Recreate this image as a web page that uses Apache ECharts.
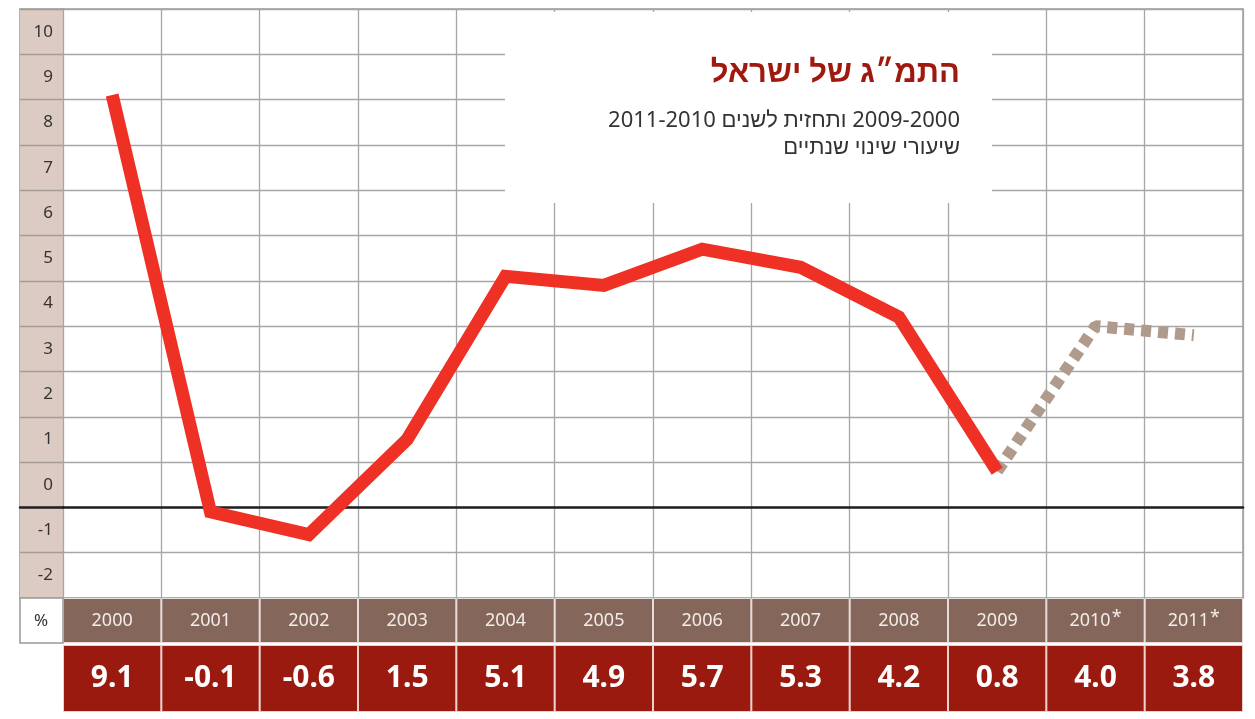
<!DOCTYPE html>
<html>
<head>
<meta charset="utf-8">
<script src="https://cdn.jsdelivr.net/npm/echarts@6/dist/echarts.min.js"></script>
<style>
  html, body { margin: 0; background: #fff; }
  #main { width: 1255px; height: 719px; }
</style>
</head>
<body>
<div id="main"></div>
<script>
var years = ["2000", "2001", "2002", "2003", "2004", "2005", "2006", "2007", "2008", "2009", "2010*", "2011*"];
var growth = [9.1, -0.1, -0.6, 1.5, 5.1, 4.9, 5.7, 5.3, 4.2, 0.8, 4.0, 3.8];
var lastActual = 9; // 2009, forecast starts after it
var yTickLabels = ["-2", "-1", "0", "1", "2", "3", "4", "5", "6", "7", "8", "9", "10"];

var titleText = "התמ״ג של ישראל";
var subtitleLines = ["2009-2000 ותחזית לשנים 2011-2010", "שיעורי שינוי שנתיים"];

var actualData = growth.map(function (v, i) { return i <= lastActual ? v : null; });
var forecastData = growth.map(function (v, i) { return i >= lastActual ? v : null; });
var cellFill = years.map(function () { return 1; });

var FONT = '"Noto Sans", "Liberation Sans", "DejaVu Sans", sans-serif';
var GRID_LINE = "#a6a6a6";
var RLE = "\u202B", PDF = "\u202C"; // keep hebrew lines right-to-left on the canvas

var option = {
  animation: false,
  textStyle: { fontFamily: FONT },
  graphic: [
    { type: "rect", z: 3, shape: { x: 505, y: 12, width: 487, height: 191 }, style: { fill: "#fff" } },
    {
      type: "text", z: 4, x: 960, y: 73,
      style: { text: RLE + titleText + PDF, fontSize: 31, fontWeight: "bold", fill: "#a0190f", align: "right", verticalAlign: "middle", fontFamily: FONT }
    },
    {
      type: "text", z: 4, x: 960, y: 121,
      style: { text: RLE + subtitleLines[0] + PDF, fontSize: 22, fill: "#333", align: "right", verticalAlign: "middle", fontFamily: FONT }
    },
    {
      type: "text", z: 4, x: 960, y: 148,
      style: { text: RLE + subtitleLines[1] + PDF, fontSize: 22, fill: "#333", align: "right", verticalAlign: "middle", fontFamily: FONT }
    },
    { type: "rect", z: 3, shape: { x: 20, y: 598, width: 43, height: 45 }, style: { fill: "#fff", stroke: "#999", lineWidth: 1.5 } },
    { type: "text", z: 4, x: 41, y: 621, style: { text: "%", fontSize: 17, fill: "#333", align: "center", verticalAlign: "middle", fontFamily: FONT } }
  ],
  grid: [
    { left: 20, width: 43, top: 9, height: 589, show: true, borderColor: "#999", borderWidth: 1.5 },
    { left: 63, width: 1180, top: 9, height: 589, show: true, borderColor: "#999", borderWidth: 1.5 },
    { left: 63, width: 1180, top: 598, height: 45 },
    { left: 63, width: 1180, top: 645, height: 67 }
  ],
  xAxis: [
    {
      gridIndex: 0, type: "value", min: 0, max: 1,
      axisLine: { show: true, onZero: true, lineStyle: { color: "#231f20", width: 2.5 } },
      axisTick: { show: false }, axisLabel: { show: false }, splitLine: { show: false }
    },
    {
      gridIndex: 1, type: "category", data: years, boundaryGap: true,
      axisLine: { show: true, onZero: true, lineStyle: { color: "#231f20", width: 2.5 } },
      axisTick: { show: false }, axisLabel: { show: false },
      splitLine: { show: true, interval: 0, lineStyle: { color: GRID_LINE, width: 1.3 } }
    },
    { gridIndex: 2, type: "category", data: years, show: false },
    { gridIndex: 3, type: "category", data: years, show: false }
  ],
  yAxis: [
    {
      gridIndex: 0, type: "value", position: "right", min: -2, max: 11, interval: 1,
      axisLine: { show: false }, axisTick: { show: false },
      splitArea: { show: true, areaStyle: { color: ["#dccbc3"] } },
      splitLine: { show: true, lineStyle: { color: "#a39b96", width: 1.3 } },
      axisLabel: {
        inside: true, margin: 10, fontSize: 17, color: "#333",
        verticalAlign: "bottom", lineHeight: 45,
        formatter: function (v, i) { return yTickLabels[i] || ""; }
      }
    },
    {
      gridIndex: 1, type: "value", min: -2, max: 11, interval: 1,
      axisLine: { show: false }, axisTick: { show: false }, axisLabel: { show: false },
      splitLine: { show: true, lineStyle: { color: GRID_LINE, width: 1.3 } }
    },
    { gridIndex: 2, type: "value", min: 0, max: 1, show: false },
    { gridIndex: 3, type: "value", min: 0, max: 1, show: false }
  ],
  series: [
    {
      name: "actual", type: "line", xAxisIndex: 1, yAxisIndex: 1, z: 10,
      data: actualData, symbol: "none",
      lineStyle: { color: "#ee3124", width: 13, join: "miter" }
    },
    {
      name: "forecast", type: "line", xAxisIndex: 1, yAxisIndex: 1, z: 9,
      data: forecastData, symbol: "none",
      lineStyle: { color: "#b09a8c", width: 12, type: [10, 7] }
    },
    {
      name: "years", type: "bar", xAxisIndex: 2, yAxisIndex: 2,
      data: cellFill, barWidth: "100%", silent: true,
      itemStyle: { color: "#85665a", borderColor: "#e6dcd8", borderWidth: 1 },
      label: {
        show: true, position: "inside", fontSize: 18, color: "#f3ece8", fontFamily: FONT,
        formatter: function (p) {
          var y = p.name;
          return y.indexOf("*") > 0 ? y.replace("*", "") + "{s|*}" : y;
        },
        rich: { s: { fontSize: 18, color: "#f3ece8", padding: [0, 0, 6, 1], fontFamily: FONT } }
      }
    },
    {
      name: "values", type: "bar", xAxisIndex: 3, yAxisIndex: 3,
      data: cellFill, barWidth: "100%", silent: true,
      itemStyle: { color: "#9b1a10", borderColor: "#ead2cf", borderWidth: 1 },
      label: {
        show: true, position: "inside", fontSize: 30, fontWeight: "bold", color: "#fff", fontFamily: FONT,
        formatter: function (p) { return growth[p.dataIndex].toFixed(1); }
      }
    }
  ]
};

var myChart = echarts.init(document.getElementById("main"));
myChart.setOption(option);
</script>
</body>
</html>
